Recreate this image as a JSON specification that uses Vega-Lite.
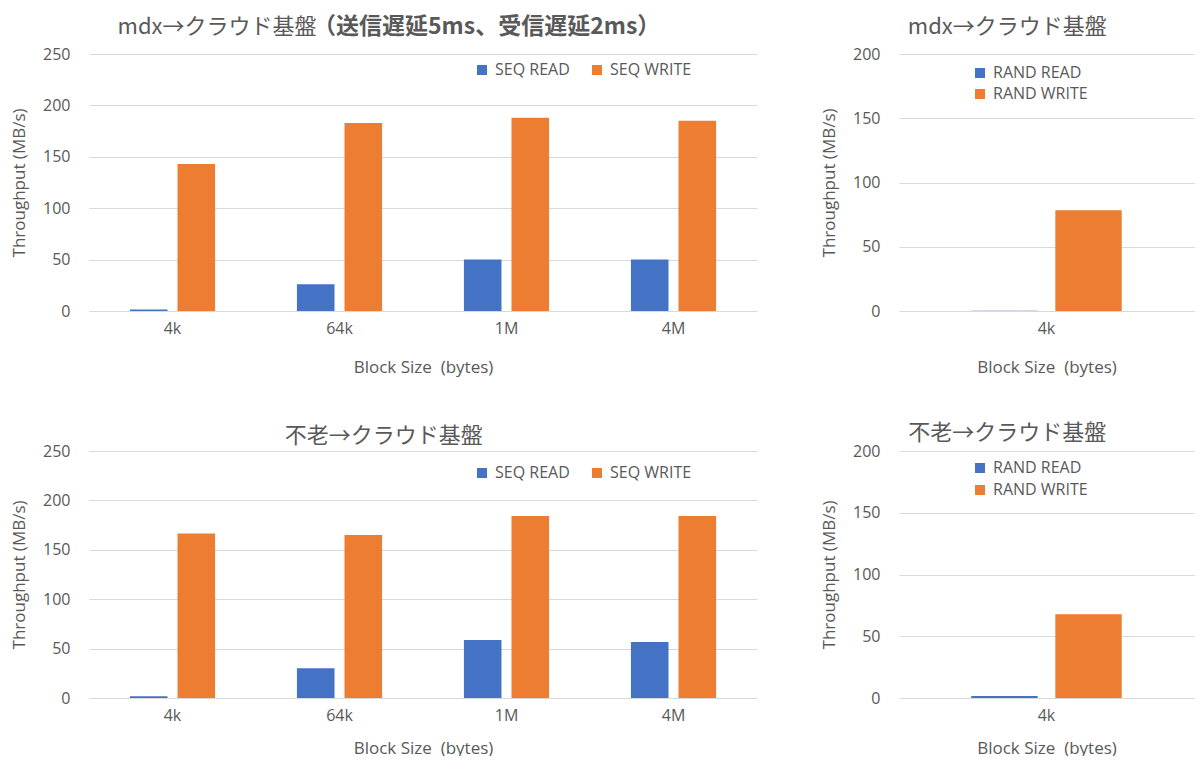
{
  "$schema": "https://vega.github.io/schema/vega-lite/v6.json",
  "background": "white",
  "padding": {"left": 10, "top": 15, "right": 5, "bottom": 0},
  "datasets": {
    "mdx_seq": [
      {"block": "4k", "type": "SEQ READ", "value": 1.5},
      {"block": "4k", "type": "SEQ WRITE", "value": 143},
      {"block": "64k", "type": "SEQ READ", "value": 26},
      {"block": "64k", "type": "SEQ WRITE", "value": 183},
      {"block": "1M", "type": "SEQ READ", "value": 50},
      {"block": "1M", "type": "SEQ WRITE", "value": 188},
      {"block": "4M", "type": "SEQ READ", "value": 50},
      {"block": "4M", "type": "SEQ WRITE", "value": 185}
    ],
    "mdx_rand": [
      {"block": "4k", "type": "RAND READ", "value": 0.2},
      {"block": "4k", "type": "RAND WRITE", "value": 78.4}
    ],
    "furou_seq": [
      {"block": "4k", "type": "SEQ READ", "value": 1.7},
      {"block": "4k", "type": "SEQ WRITE", "value": 166.5},
      {"block": "64k", "type": "SEQ READ", "value": 30},
      {"block": "64k", "type": "SEQ WRITE", "value": 165},
      {"block": "1M", "type": "SEQ READ", "value": 58.6},
      {"block": "1M", "type": "SEQ WRITE", "value": 184.3},
      {"block": "4M", "type": "SEQ READ", "value": 56.6},
      {"block": "4M", "type": "SEQ WRITE", "value": 184.3}
    ],
    "furou_rand": [
      {"block": "4k", "type": "RAND READ", "value": 1.6},
      {"block": "4k", "type": "RAND WRITE", "value": 67.8}
    ]
  },
  "config": {
    "view": {"stroke": null},
    "font": "Open Sans",
    "axis": {
      "labelFont": "Open Sans", "labelFontSize": 16, "labelColor": "#595959",
      "titleFont": "Open Sans", "titleFontSize": 17, "titleColor": "#595959", "titleFontWeight": "normal",
      "ticks": false, "domain": false, "gridColor": "#d9d9d9", "gridWidth": 1.2
    },
    "axisX": {"grid": false, "labelAngle": 0, "labelPadding": 9, "titlePadding": 23},
    "axisY": {"labelPadding": 19, "titlePadding": 14},
    "legend": {
      "labelFont": "Open Sans", "labelFontSize": 16, "labelColor": "#595959",
      "symbolType": "square", "symbolSize": 100, "symbolStrokeWidth": 0,
      "padding": 0, "labelOffset": 5, "columnPadding": 19, "rowPadding": 5
    },
    "title": {"font": "Noto Sans CJK JP", "fontSize": 22, "fontWeight": "normal", "color": "#595959", "frame": "bounds"}
  },
  "columns": 2,
  "align": "each",
  "spacing": {"row": 47, "column": 63},
  "resolve": {
    "scale": {"x": "independent", "y": "independent", "xOffset": "independent", "color": "independent"},
    "legend": {"color": "independent"}
  },
  "concat": [
    {
      "width": 668, "height": 257,
      "title": {
        "text": "mdx→クラウド基盤",
        "subtitle": "\u200b\u3000\u3000\u3000\u3000\u3000\u3000\u3000\u3000\u2002（送信遅延5ms、受信遅延2ms）",
        "anchor": "start", "dx": 107, "offset": 6,
        "subtitleFont": "Noto Sans CJK JP", "subtitleFontSize": 23, "subtitleFontWeight": "bold",
        "subtitleColor": "#595959", "subtitlePadding": -22.5
      },
      "data": {"name": "mdx_seq"},
      "mark": {"type": "bar"},
      "encoding": {
        "x": {"field": "block", "type": "nominal", "sort": ["4k", "64k", "1M", "4M"],
              "scale": {"paddingInner": 0.49, "paddingOuter": 0.245},
              "axis": {"title": "Block Size\u00a0 (bytes)"}},
        "xOffset": {"field": "type", "type": "nominal", "sort": ["SEQ READ", "SEQ WRITE"],
                    "scale": {"paddingInner": 0.21, "paddingOuter": 0}},
        "y": {"field": "value", "type": "quantitative", "scale": {"domain": [0, 250], "nice": false},
              "axis": {"title": "Throughput (MB/s)", "values": [0, 50, 100, 150, 200, 250]}},
        "color": {"field": "type", "type": "nominal",
                  "scale": {"domain": ["SEQ READ", "SEQ WRITE"], "range": ["#4472C4", "#ED7D31"]},
                  "legend": {"title": null, "orient": "none", "direction": "horizontal", "legendX": 385, "legendY": 8}}
      }
    },
    {
      "width": 295, "height": 257,
      "title": {"text": "mdx→クラウド基盤", "offset": 7},
      "data": {"name": "mdx_rand"},
      "mark": {"type": "bar"},
      "encoding": {
        "x": {"field": "block", "type": "nominal", "sort": ["4k"],
              "scale": {"paddingInner": 0.49, "paddingOuter": 0.245},
              "axis": {"title": "Block Size\u00a0 (bytes)"}},
        "xOffset": {"field": "type", "type": "nominal", "sort": ["RAND READ", "RAND WRITE"],
                    "scale": {"paddingInner": 0.21, "paddingOuter": 0}},
        "y": {"field": "value", "type": "quantitative", "scale": {"domain": [0, 200], "nice": false},
              "axis": {"title": "Throughput (MB/s)", "values": [0, 50, 100, 150, 200]}},
        "color": {"field": "type", "type": "nominal",
                  "scale": {"domain": ["RAND READ", "RAND WRITE"], "range": ["#4472C4", "#ED7D31"]},
                  "legend": {"title": null, "orient": "none", "direction": "vertical", "legendX": 73, "legendY": 11}}
      }
    },
    {
      "width": 668, "height": 247,
      "title": {"text": "不老→クラウド基盤", "offset": -5},
      "data": {"name": "furou_seq"},
      "mark": {"type": "bar"},
      "encoding": {
        "x": {"field": "block", "type": "nominal", "sort": ["4k", "64k", "1M", "4M"],
              "scale": {"paddingInner": 0.49, "paddingOuter": 0.245},
              "axis": {"title": "Block Size\u00a0 (bytes)", "titlePadding": 17}},
        "xOffset": {"field": "type", "type": "nominal", "sort": ["SEQ READ", "SEQ WRITE"],
                    "scale": {"paddingInner": 0.21, "paddingOuter": 0}},
        "y": {"field": "value", "type": "quantitative", "scale": {"domain": [0, 250], "nice": false},
              "axis": {"title": "Throughput (MB/s)", "values": [0, 50, 100, 150, 200, 250]}},
        "color": {"field": "type", "type": "nominal",
                  "scale": {"domain": ["SEQ READ", "SEQ WRITE"], "range": ["#4472C4", "#ED7D31"]},
                  "legend": {"title": null, "orient": "none", "direction": "horizontal", "legendX": 385, "legendY": 14}}
      }
    },
    {
      "width": 295, "height": 247,
      "title": {"text": "不老→クラウド基盤", "offset": -2},
      "data": {"name": "furou_rand"},
      "mark": {"type": "bar"},
      "encoding": {
        "x": {"field": "block", "type": "nominal", "sort": ["4k"],
              "scale": {"paddingInner": 0.49, "paddingOuter": 0.245},
              "axis": {"title": "Block Size\u00a0 (bytes)", "titlePadding": 17}},
        "xOffset": {"field": "type", "type": "nominal", "sort": ["RAND READ", "RAND WRITE"],
                    "scale": {"paddingInner": 0.21, "paddingOuter": 0}},
        "y": {"field": "value", "type": "quantitative", "scale": {"domain": [0, 200], "nice": false},
              "axis": {"title": "Throughput (MB/s)", "values": [0, 50, 100, 150, 200]}},
        "color": {"field": "type", "type": "nominal",
                  "scale": {"domain": ["RAND READ", "RAND WRITE"], "range": ["#4472C4", "#ED7D31"]},
                  "legend": {"title": null, "orient": "none", "direction": "vertical", "legendX": 73, "legendY": 9, "rowPadding": 6}}
      }
    }
  ]
}
